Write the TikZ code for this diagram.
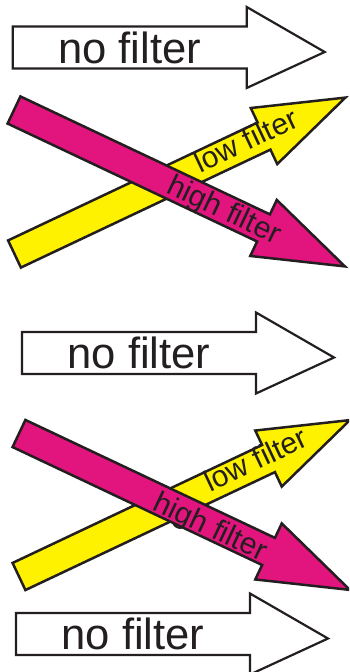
\documentclass[tikz,border=0pt]{standalone}
\usepackage{fontspec}
\setmainfont{Liberation Sans}
\definecolor{hotpink}{RGB}{226,20,125}
\definecolor{lemon}{RGB}{255,242,0}
\definecolor{ink}{RGB}{35,31,32}

\begin{document}
\begin{tikzpicture}[x=0.5pt,y=-0.5pt]
  \clip (0,0) rectangle (349,672);
  % plain arrows
  \foreach \x/\y/\n in {12.7/47.5/top,22/353/mid,16/634/bot} {
    \begin{scope}[shift={(\x,\y)}]
      \draw[ink, line width=1.1pt, fill=white] (0,-21) -- (234,-21) -- (234,-40.5) -- (312,4.5)
        -- (234,40.5) -- (234,21) -- (0,21) -- cycle;
      \node[ink, font=\fontsize{21.8}{24}\selectfont] (no-\n) at (117,0) {no filter};
    \end{scope}
  }
  % crossed arrows
  \foreach \x/\y/\a/\c/\p/\q/\t/\n in {
      14.5/254/25.3/lemon/258/6.4/low filter/low1,
      14/110/-25.3/hotpink/233/10/high filter/high1,
      19/576.5/25.3/lemon/264/5.6/low filter/low2,
      19/433.5/-25.3/hotpink/213/12/high filter/high2} {
    \begin{scope}[shift={(\x,\y)}, rotate=\a]
      \fill[\c] (0,-15) -- (276,-15) -- (276,-31) -- (366,0) -- (276,31) -- (276,15) -- (0,15) -- cycle;
      \draw[ink, line width=1.25pt] (0,-15) -- (276,-15) -- (276,-31) -- (366,0) -- (276,31) -- (276,15) -- (0,15) -- cycle;
      \node[ink, rotate=\a, anchor=base, inner sep=0pt, font=\fontsize{15}{17}\selectfont] (\n) at (\p,\q) {\t};
    \end{scope}
  }
\end{tikzpicture}
\end{document}
